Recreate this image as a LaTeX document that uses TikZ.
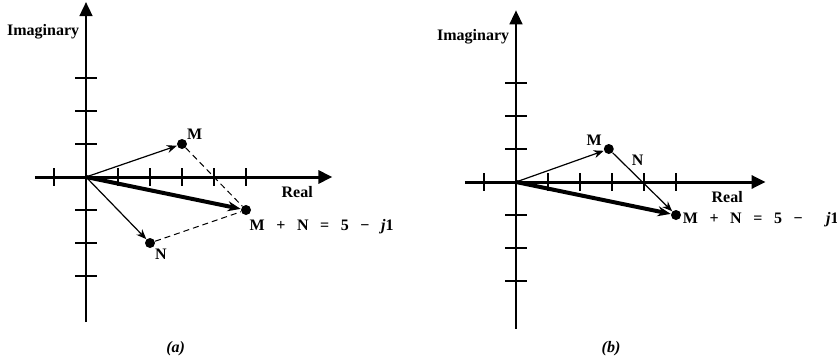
\documentclass[tikz,border=0pt]{standalone}
\usepackage{fontspec}
\setmainfont{Liberation Serif}
\usetikzlibrary{arrows.meta}

\newcommand{\gap}{\hspace{5.8pt}}

\begin{document}
\begin{tikzpicture}[
  x=16pt, y=16.5pt,
  font=\bfseries\fontsize{8}{9}\selectfont,
  realaxis/.style={-{Triangle[length=7pt,width=6.5pt]}, line width=1.5pt},
  imagaxis/.style={-{Triangle[length=7pt,width=6.5pt]}, line width=0.8pt},
  tickmark/.style={line width=0.9pt},
  phasor/.style={-{Stealth[length=5pt,width=4pt]}, line width=0.6pt},
  result/.style={-{Stealth[length=6.5pt,width=5pt]}, line width=2pt},
  helper/.style={line width=0.5pt, dash pattern=on 3pt off 2pt},
  tip/.style={circle, fill, inner sep=0pt, minimum size=5pt},
  caption/.style={font=\bfseries\itshape\fontsize{8}{9}\selectfont}
]
  \useasboundingbox (0pt,0pt) rectangle (418.5pt,180pt);

  % (a) parallelogram construction
  \begin{scope}[shift={(43pt,91.5pt)}]
    \coordinate (oa) at (0,0);
    \coordinate (xla) at (-1.6,0);
    \coordinate (xra) at (7.7,0);
    \coordinate (yba) at (0,-4.4);
    \coordinate (yta) at (0,5.3);
    \draw[imagaxis] (yba) -- (yta);
    \draw[realaxis] (xla) -- (xra);
    \foreach \k in {-1,1,2,3,4,5}
      \draw[tickmark] (\k,-0.27) -- (\k,0.27);
    \foreach \k in {-3,-2,-1,1,2,3}
      \draw[tickmark] (-0.33,\k) -- (0.33,\k);

    \node[tip] (ma) at (3,1) {};
    \node[tip] (na) at (2,-2) {};
    \node[tip] (sa) at (5,-1) {};
    \draw[helper] (ma) -- (sa);
    \draw[helper] (na) -- (sa);
    \draw[phasor] (oa) -- (ma);
    \draw[phasor] (oa) -- (na);
    \draw[result] (oa) -- (sa);

    \node (imga) at (-1.34,4.4) {Imaginary};
    \node (reala) at (6.6,-0.45) {Real};
    \node (mlaba) at (3.4,1.3) {M};
    \node (nlaba) at (2.34,-2.33) {N};
    \node[anchor=west, inner sep=0pt] (suma) at (5.1,-1.5)
      {M\gap+\gap N\gap=\gap 5\gap−\gap\textit{j}1};
    \node[caption] (capa) at (2.8,-5.2) {(a)};
  \end{scope}

  % (b) head-to-tail construction
  \begin{scope}[shift={(258pt,89pt)}]
    \coordinate (ob) at (0,0);
    \coordinate (xlb) at (-1.6,0);
    \coordinate (xrb) at (7.8,0);
    \coordinate (ybb) at (0,-4.45);
    \coordinate (ytb) at (0,5.2);
    \draw[imagaxis] (ybb) -- (ytb);
    \draw[realaxis] (xlb) -- (xrb);
    \foreach \k in {-1,1,2,3,4,5}
      \draw[tickmark] (\k,-0.27) -- (\k,0.27);
    \foreach \k in {-3,-2,-1,1,2,3}
      \draw[tickmark] (-0.33,\k) -- (0.33,\k);

    \node[tip] (mb) at (2.9,1) {};
    \node[tip] (sb) at (5,-1) {};
    \draw[phasor] (ob) -- (mb);
    \draw[phasor] (mb) -- (sb);
    \draw[result] (ob) -- (sb);

    \node (imgb) at (-1.34,4.4) {Imaginary};
    \node (realb) at (6.6,-0.45) {Real};
    \node (mlabb) at (2.44,1.25) {M};
    \node (nlabb) at (3.8,0.67) {N};
    \node[anchor=west, inner sep=0pt] (sumb) at (5.2,-1.15)
      {M\gap+\gap N\gap=\gap 5\gap−\gap\gap\textit{j}1};
    \node[caption] (capb) at (2.97,-5.06) {(b)};
  \end{scope}
\end{tikzpicture}
\end{document}
